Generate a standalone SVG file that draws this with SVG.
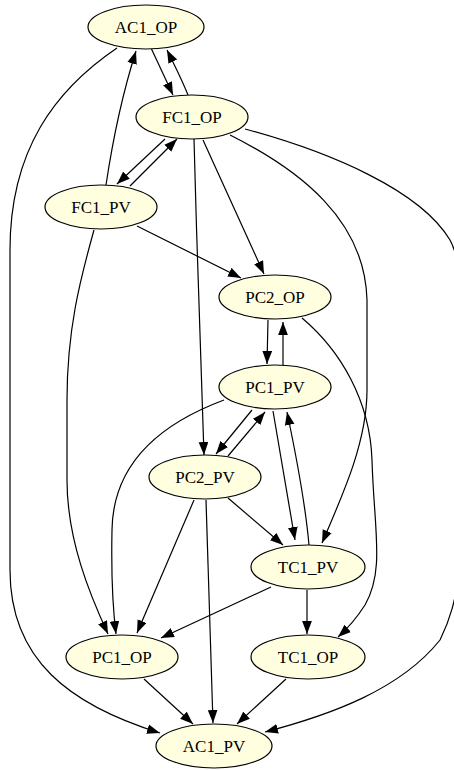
<svg xmlns="http://www.w3.org/2000/svg" width="454" height="770" viewBox="0 0 454 770">
<defs>
<marker id="ah" markerUnits="userSpaceOnUse" markerWidth="13" markerHeight="10" viewBox="0 0 12 9" refX="12" refY="4.5" orient="auto">
<path d="M0,0 L12,4.5 L0,9 z" fill="#000"/>
</marker>
<style>
.n ellipse{fill:#ffffe0;stroke:#000;stroke-width:1.2}
.n text{font-family:"Liberation Serif","Times New Roman",serif;font-size:17px;text-anchor:middle;fill:#000}
#edges path{fill:none;stroke:#000;stroke-width:1.2;marker-end:url(#ah)}
</style>
</defs>
<rect width="454" height="770" fill="#fff"/>
<g id="edges">
<path d="M151.5,49 L173,95"/>
<path d="M188,95 C182,80 174,64 167,50"/>
<path d="M106,185 C112,145 122,95 136,51"/>
<path d="M117,48 C55,90 10,150 10,250 L10,570 C10,660 70,705 160,733"/>
<path d="M165,139 L117,184"/>
<path d="M130,186 L177,139"/>
<path d="M194,139 C197,250 201,380 204,455"/>
<path d="M203,140 L264,274"/>
<path d="M230,135 C300,170 365,220 367,300 L367,390 C367,440 345,490 322,543"/>
<path d="M245,129 C330,152 420,190 450,240 C462,262 464,300 464,420 C464,560 460,600 440,640 C400,690 330,715 265,732"/>
<path d="M137,226 L241,278"/>
<path d="M94,230 C80,280 67,330 67,400 L67,480 C67,540 90,595 108,634"/>
<path d="M268,320 L267,364"/>
<path d="M283,365 L283,322"/>
<path d="M302,318 C340,350 370,400 372,460 C374,530 385,570 365,605 C356,619 347,629 338,637"/>
<path d="M252,410 L216,454"/>
<path d="M228,456 L265,412"/>
<path d="M224,400 C165,422 113,460 112,530 C111,580 113,610 116,634"/>
<path d="M273,411 L295,540"/>
<path d="M309,545 C305,500 295,450 287,412"/>
<path d="M228,498 L283,545"/>
<path d="M194,500 L137,633"/>
<path d="M206,500 L213,723"/>
<path d="M271,587 L161,638"/>
<path d="M307,590 L307,634"/>
<path d="M144,679 L193,724"/>
<path d="M286,679 L237,724"/>
</g>
<g id="AC1_OP" class="n"><ellipse cx="146" cy="27" rx="58" ry="22"/><text x="146" y="33">AC1_OP</text></g>
<g id="FC1_OP" class="n"><ellipse cx="192" cy="117" rx="56" ry="22"/><text x="192" y="123">FC1_OP</text></g>
<g id="FC1_PV" class="n"><ellipse cx="101" cy="207" rx="56" ry="22"/><text x="101" y="213">FC1_PV</text></g>
<g id="PC2_OP" class="n"><ellipse cx="275" cy="297" rx="56" ry="22"/><text x="275" y="303">PC2_OP</text></g>
<g id="PC1_PV" class="n"><ellipse cx="275" cy="387" rx="56" ry="22"/><text x="275" y="393">PC1_PV</text></g>
<g id="PC2_PV" class="n"><ellipse cx="205" cy="477" rx="56" ry="22"/><text x="205" y="483">PC2_PV</text></g>
<g id="TC1_PV" class="n"><ellipse cx="308" cy="567" rx="57" ry="22"/><text x="308" y="573">TC1_PV</text></g>
<g id="PC1_OP" class="n"><ellipse cx="122" cy="657" rx="56" ry="22"/><text x="122" y="663">PC1_OP</text></g>
<g id="TC1_OP" class="n"><ellipse cx="308" cy="657" rx="57" ry="22"/><text x="308" y="663">TC1_OP</text></g>
<g id="AC1_PV" class="n"><ellipse cx="214" cy="746" rx="58" ry="22"/><text x="214" y="752">AC1_PV</text></g>
</svg>
